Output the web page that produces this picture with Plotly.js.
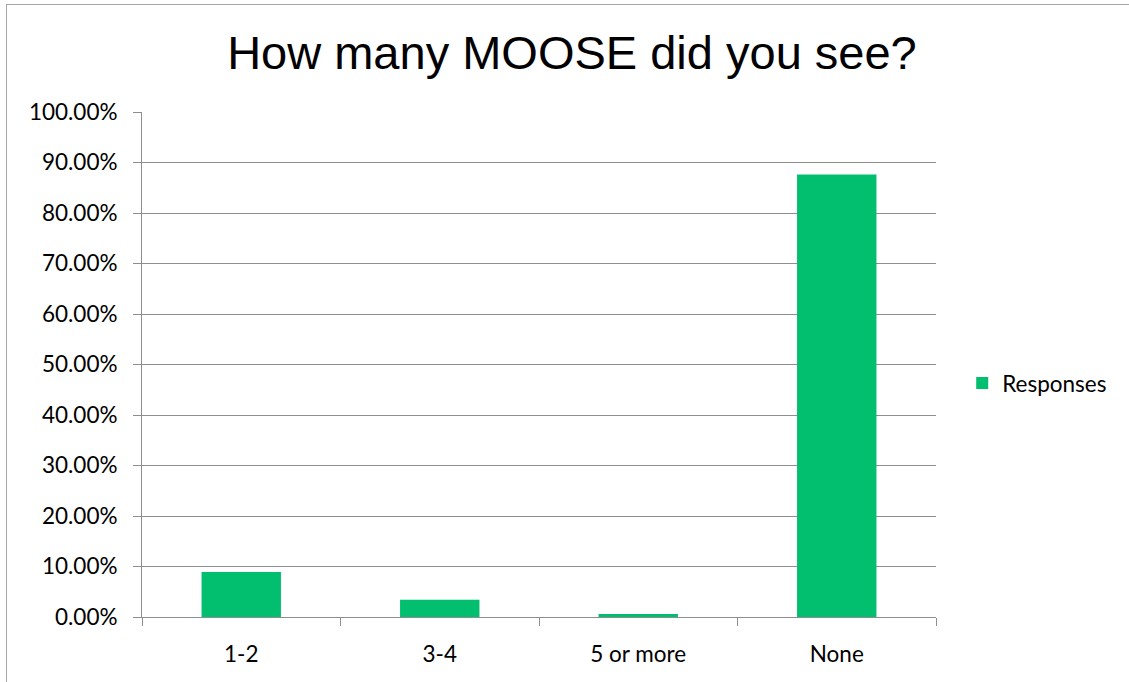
<!DOCTYPE html>
<html>
<head>
<meta charset="utf-8">
<script src="https://cdn.plot.ly/plotly-3.0.1.min.js"></script>
<style>
  html, body { margin: 0; padding: 0; background: #fff; }
  #wrap { position: relative; width: 1129px; height: 682px; }
  #chart { position: absolute; left: 0; top: 0; width: 1129px; height: 682px; }
  #frame { position: absolute; left: 6px; top: 4px; width: 1123px; height: 678px;
           border-left: 1.5px solid #a6a6a6; border-top: 1.5px solid #a6a6a6;
           pointer-events: none; box-sizing: border-box; }
</style>
</head>
<body>
<div id="wrap">
  <div id="chart"></div>
  <div id="frame"></div>
</div>
<script>
const categories = ["1-2", "3-4", "5 or more", "None"];
const responses = [0.089, 0.034, 0.006, 0.876];
const seriesName = "Responses";
const chartTitle = "How many MOOSE did you see?";
const yTickValues = [0, 0.1, 0.2, 0.3, 0.4, 0.5, 0.6, 0.7, 0.8, 0.9, 1.0];

const tickFont = { family: "Lato, 'Open Sans', sans-serif", size: 22.5, color: "#000" };

const data = [{
  type: "bar",
  x: categories,
  y: responses,
  name: seriesName,
  marker: { color: "#02BF6F" },
  showlegend: true,
  hoverinfo: "x+y"
}];

const layout = {
  width: 1129,
  height: 682,
  margin: { l: 142, r: 193, t: 112, b: 65, pad: 0 },
  paper_bgcolor: "#fff",
  plot_bgcolor: "#fff",
  bargap: 0.6,
  title: {
    text: chartTitle,
    font: { family: "'Liberation Sans', Arial, sans-serif", size: 47, color: "#000" },
    x: 0.5066, xref: "container", xanchor: "center",
    y: 1 - 53 / 682, yref: "container", yanchor: "middle"
  },
  xaxis: {
    type: "category",
    showline: true, linecolor: "#8e8e8e", linewidth: 1,
    ticks: "outside", ticklen: 8, tickcolor: "#8e8e8e", tickwidth: 1,
    tickson: "boundaries",
    showgrid: false,
    tickfont: tickFont,
    ticklabelstandoff: 17,
    fixedrange: true
  },
  yaxis: {
    range: [0, 1],
    tickvals: yTickValues,
    tickformat: ".2%",
    showline: true, linecolor: "#8e8e8e", linewidth: 1,
    ticks: "outside", ticklen: 8, tickcolor: "#8e8e8e", tickwidth: 1,
    showgrid: true, gridcolor: "#8e8e8e", gridwidth: 1,
    zeroline: false,
    tickfont: tickFont,
    ticklabelstandoff: 11,
    fixedrange: true
  },
  legend: {
    x: 1.033, xanchor: "left",
    y: 0.4626, yanchor: "middle",
    font: tickFont,
    bgcolor: "rgba(0,0,0,0)"
  },
  showlegend: true
};

Plotly.newPlot("chart", data, layout, { displayModeBar: false, staticPlot: true });
</script>
</body>
</html>
